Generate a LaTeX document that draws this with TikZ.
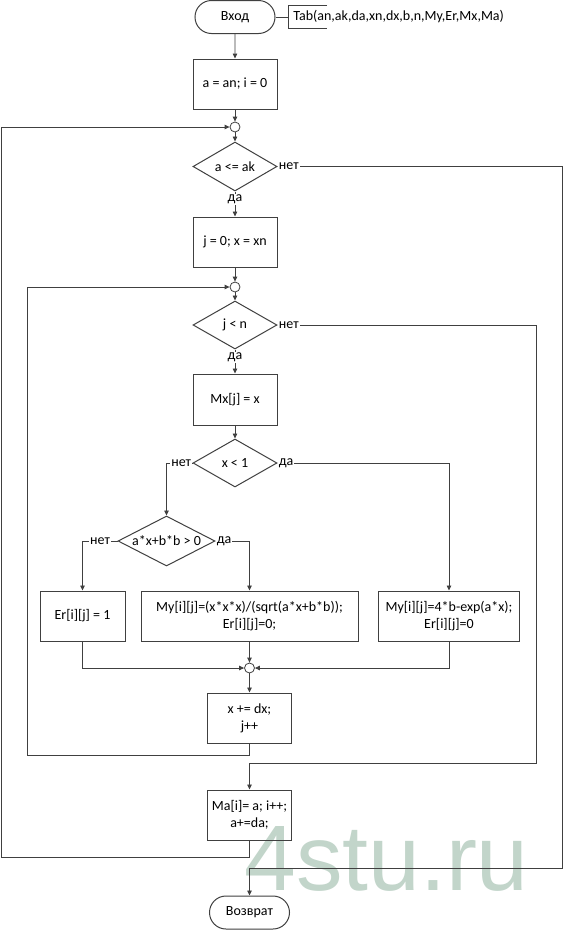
\documentclass[tikz,border=0pt]{standalone}
\usepackage{fontspec}
\setmainfont{Carlito}
\newfontfamily\markfont{Liberation Sans}
\usetikzlibrary{shapes.geometric,shapes.misc,arrows.meta}
\definecolor{wmark}{RGB}{194,213,202}
\newcommand{\dtext}[1]{\makebox[0pt]{#1}}
\begin{document}
\begin{tikzpicture}[x=1pt,y=-1pt,>={Triangle[length=5pt,width=4.5pt]},line width=0.8pt,
	every node/.style={font=\fontsize{14}{17}\selectfont},
	box/.style={draw=black!75,line width=1pt,minimum width=84pt,minimum height=50pt,inner sep=2pt,align=center},
	term/.style={draw=black!75,line width=1pt,rounded rectangle,minimum width=84pt,minimum height=33pt,inner sep=2pt},
	cond/.style={draw=black!75,line width=1pt,diamond,minimum width=84pt,minimum height=49pt,inner sep=0pt},
	joint/.style={draw=black!75,circle,minimum size=10pt,inner sep=0pt},
	lbl/.style={fill=white,inner sep=1pt},
	flow/.style={draw=black!75,->}]
	\useasboundingbox[fill=white] (0,0) rectangle (563,930);
	% watermark
	\node[anchor=base west,inner sep=0pt,text=wmark,font=\markfont\fontsize{93}{93}\selectfont] (wm) at (244,890) {4stu.ru};
	% corners of the loops
	\path (1,857) coordinate (l1)
		(27,755) coordinate (l2)
		(562,868) coordinate (r1)
		(536,763) coordinate (r2);
	\node[term] (start) at (235,17) {Вход};
	\node[anchor=west,minimum height=22pt,inner xsep=5pt,inner ysep=0pt] (tab) at (288,17) {Tab(an,ak,da,xn,dx,b,n,My,Er,Mx,Ma)};
	\draw[black!75] ([xshift=39pt]tab.north west) -- (tab.north west) -- (tab.south west) -- ++(39,0);
	\draw[black!75] (start.east) -- (tab.west);
	\node[box] (init) at (235,84) {a = an; i = 0};
	\node[joint] (c1) at (235,127) {};
	\node[cond] (d1) at (235,166.5) {\dtext{a <= ak}};
	\node[box] (prep) at (235,242) {j = 0; x = xn};
	\node[joint] (c2) at (235,287) {};
	\node[cond,minimum height=48pt] (d2) at (235,325) {\dtext{j < n}};
	\node[box,minimum height=51pt] (mx) at (235,399.5) {Mx[j] = x};
	\node[cond,minimum height=48pt] (d3) at (235,463) {\dtext{x < 1}};
	\node[cond,minimum width=97pt,minimum height=50pt] (d4) at (166.5,541) {\dtext{a*x+b*b > 0}};
	\node[box,minimum width=85pt] (er) at (82.5,616) {Er[i][j] = 1};
	\node[box,minimum width=217pt] (my) at (249.5,616) {My[i][j]=(x*x*x)/(sqrt(a*x+b*b));\\Er[i][j]=0;};
	\node[box,minimum width=141pt] (my2) at (449,616) {My[i][j]=4*b-exp(a*x);\\Er[i][j]=0};
	\node[joint] (c3) at (249.5,668) {};
	\node[box] (inc) at (249.5,718) {x += dx;\\j++};
	\node[box] (next) at (249.5,815) {Ma[i]= a; i++;\\a+=da;};
	\node[term] (stop) at (249.5,912.5) {Возврат};
	% connectors
	\draw[flow] (start) -- (init);
	\draw[flow] (init) -- (c1);
	\draw[flow] (c1) -- (d1);
	\draw[flow] (d1) -- node[lbl,below=2pt,pos=0] {да} (prep);
	\draw[flow] (prep) -- (c2);
	\draw[flow] (c2) -- (d2);
	\draw[flow] (d2) -- node[lbl,below=2pt,pos=0] {да} (mx);
	\draw[flow] (mx) -- (d3);
	\draw[flow] (d3.west) -| node[lbl,left,pos=0] {нет} (d4.north);
	\draw[flow] (d3.east) -| node[lbl,right,pos=0] {да} (my2.north);
	\draw[flow] (d4.west) -| node[lbl,pos=0.25] {нет} (er.north);
	\draw[flow] (d4.east) -| node[lbl,right,pos=0] {да} (my.north);
	\draw[flow] (er.south) |- (c3.west);
	\draw[flow] (my) -- (c3);
	\draw[flow] (my2.south) |- (c3.east);
	\draw[flow] (c3) -- (inc);
	\draw[flow] (inc.south) |- (l2) |- (c2.west);
	\draw[flow] (d2.east) -| node[lbl,right,pos=0] {нет} (r2) -| (next.north);
	\draw[flow] (next.south) |- (l1) |- (c1.west);
	\draw[flow] (d1.east) -| node[lbl,right,pos=0] {нет} (r1) -| (stop.north);
\end{tikzpicture}
\end{document}
